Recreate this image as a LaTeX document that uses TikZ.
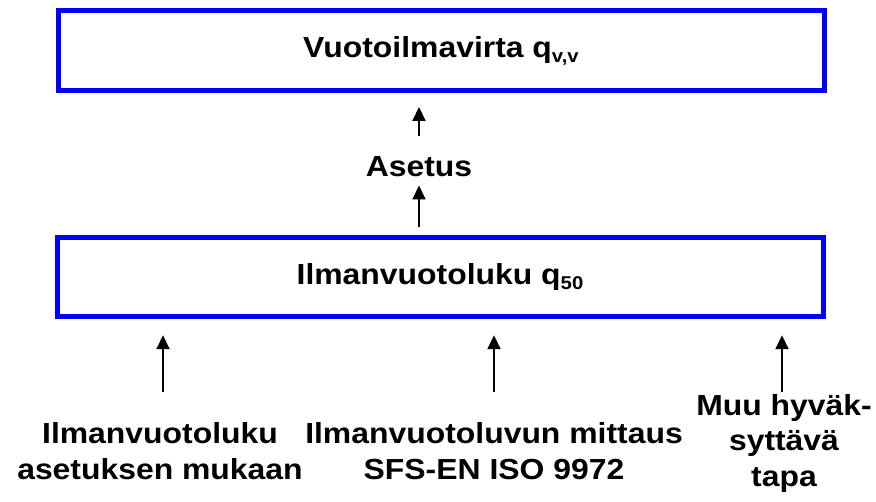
\documentclass[tikz,border=0pt]{standalone}
\usepackage{fontspec}
\setmainfont{Liberation Sans}[FakeStretch=1.1]
\usetikzlibrary{arrows.meta}
\definecolor{frameblue}{RGB}{0,0,255}
\newcommand{\lowidx}[1]{\raisebox{-5pt}{\fontsize{18.5}{18.5}\selectfont #1}}
\begin{document}
\begin{tikzpicture}[x=1pt,y=-1pt,
  blockbox/.style={draw=frameblue, line width=5pt, minimum width=766pt,
    minimum height=80pt, inner sep=0pt,
    font=\fontsize{29}{34}\selectfont\bfseries},
  txt/.style={inner sep=0pt, align=center,
    font=\fontsize{29}{36}\selectfont\bfseries},
  uparrow/.style={-{Triangle[length=14pt,width=13pt]}, line width=2pt}]
  \useasboundingbox (0,0) rectangle (876,502);

  % the two quantity boxes
  \node[blockbox] (flow) at (441,51) {Vuotoilmavirta q\lowidx{v,v}};
  \node[blockbox, minimum height=78.5pt] (q50) at (440,277) {Ilmanvuotoluku q\lowidx{50}};

  % conversion step between them
  \node[txt, anchor=base] (setting) at (419,177) {Asetus};

  % ways of obtaining q50
  \node[txt, anchor=north] (src1) at (160,422.5) {Ilmanvuotoluku\\asetuksen mukaan};
  \node[txt, anchor=north] (src2) at (494,422.5) {Ilmanvuotoluvun mittaus\\SFS-EN ISO 9972};
  \node[txt, anchor=north, font=\fontsize{29}{35.5}\selectfont\bfseries] (src3) at (784,394) {Muu hyväk-\\syttävä\\tapa};

  \coordinate (s1) at (163,392);
  \coordinate (s2) at (494,392);
  \coordinate (s3) at (782,392);

  % arrows
  \draw[uparrow, shorten <=8pt, shorten >=8pt] (q50.north -| setting) -- (setting.south);
  \draw[uparrow, shorten <=21pt, shorten >=13.5pt] (setting.north) -- (setting.north |- flow.south);
  \foreach \s in {s1,s2,s3}
    \draw[uparrow, shorten >=16.5pt] (\s) -- (\s |- q50.south);
\end{tikzpicture}
\end{document}
